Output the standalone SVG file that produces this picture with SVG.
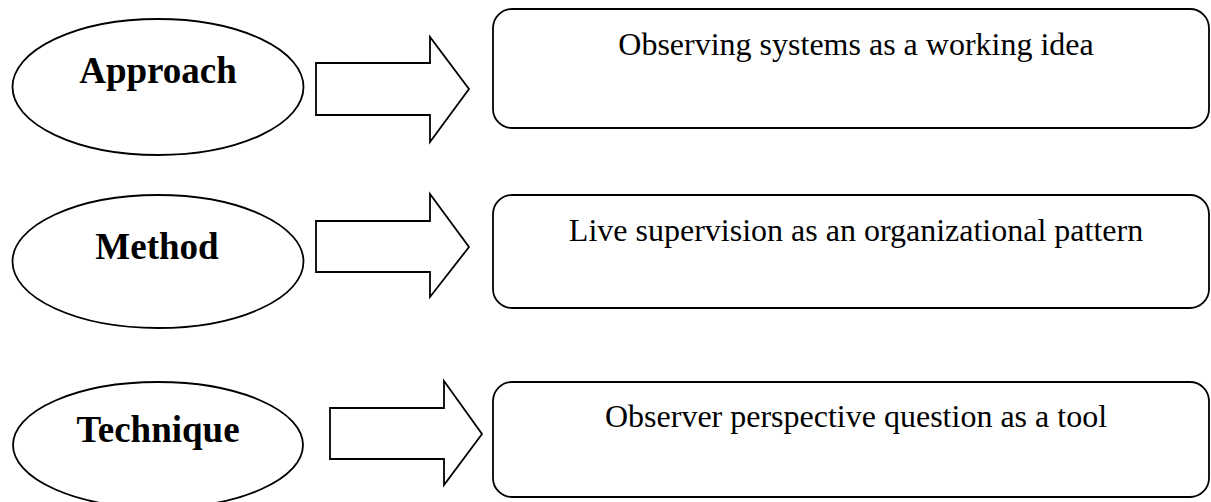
<svg xmlns="http://www.w3.org/2000/svg" width="1211" height="502" viewBox="0 0 1211 502">
<style>
.shape{fill:#fff;stroke:#000;stroke-width:1.8}
.lbl{font-family:"Liberation Serif","Times New Roman",serif;font-weight:bold;font-size:37px;text-anchor:middle;fill:#000}
.txt{font-family:"Liberation Serif","Times New Roman",serif;font-size:32px;text-anchor:middle;fill:#000}
</style>
<rect width="1211" height="502" fill="#fff"/>
<g id="approach"><ellipse class="shape" cx="158" cy="87" rx="145.5" ry="68"/><text class="lbl" x="158" y="83">Approach</text></g>
<g id="method"><ellipse class="shape" cx="158" cy="261.5" rx="145.5" ry="66.5"/><text class="lbl" x="157" y="259">Method</text></g>
<g id="technique"><ellipse class="shape" cx="158" cy="445" rx="145" ry="63"/><text class="lbl" x="158" y="442">Technique</text></g>
<g id="box1"><rect class="shape" x="493" y="9" width="716" height="119" rx="19"/><text class="txt" x="856" y="55">Observing systems as a working idea</text></g>
<g id="box2"><rect class="shape" x="493" y="195" width="716" height="113" rx="19"/><text class="txt" x="856" y="241">Live supervision as an organizational pattern</text></g>
<g id="box3"><rect class="shape" x="493" y="382" width="716" height="115" rx="19"/><text class="txt" x="856" y="427">Observer perspective question as a tool</text></g>
<g id="connectors">
<polygon class="shape" points="316,63 430,63 430,37 469,89 430,142 430,115 316,115"/>
<polygon class="shape" points="316,221 430,221 430,194 469,247 430,297 430,272 316,272"/>
<polygon class="shape" points="330,408 444,408 444,381 482,434 444,485 444,459 330,459"/>
</g>
</svg>
